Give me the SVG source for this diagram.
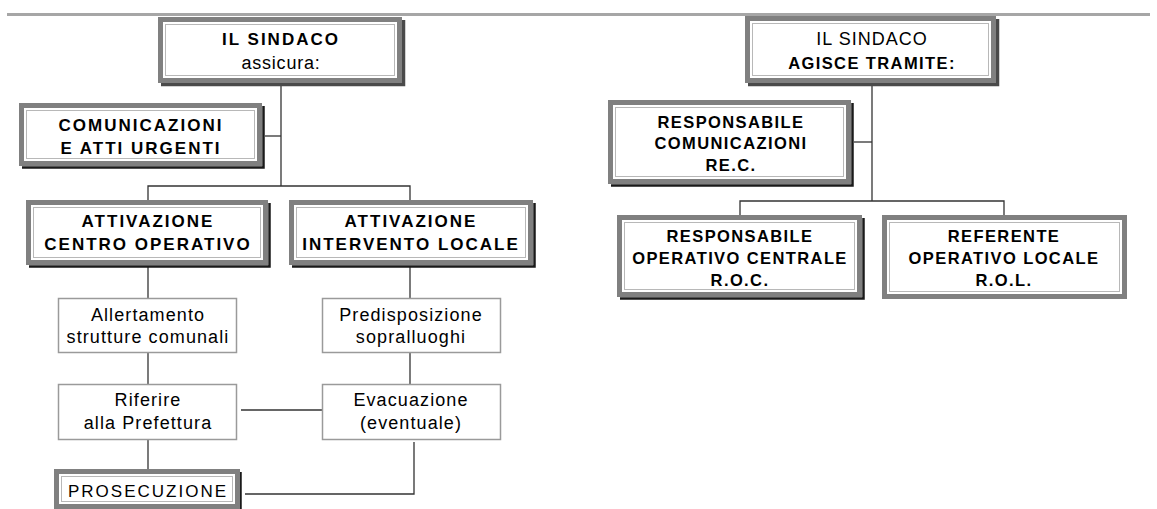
<svg xmlns="http://www.w3.org/2000/svg" width="1157" height="509" viewBox="0 0 1157 509">
<style>
  .bg{fill:#ffffff}
  .frame{fill:#ffffff;stroke:#808080;stroke-width:5}
  .inner{fill:none;stroke:#b8b8b8;stroke-width:1}
  .shadow{fill:none;stroke:#1a1a1a;stroke-width:2.5}
  .shadowtop{fill:none;stroke:#4a4a4a;stroke-width:3.5}
  .thin{fill:#ffffff;stroke:#9a9a9a;stroke-width:1.5}
  .rule{stroke:#a6a6a6;stroke-width:3}
  .conn{fill:none;stroke:#333333;stroke-width:1.3}
  text{font-family:"Liberation Sans",Arial,sans-serif;fill:#000000;text-anchor:middle}
  .b{font-weight:bold;font-size:17px;letter-spacing:2px}
  .br{font-weight:bold;font-size:16.5px;letter-spacing:1.4px}
  .r{font-size:18px;letter-spacing:1.1px}
  .rr{font-size:18px;letter-spacing:1px}
  .p{font-size:17px;letter-spacing:2px}
</style>
<rect class="bg" x="0" y="0" width="1157" height="509"/>
<line class="rule" x1="7" y1="14.5" x2="1150" y2="14.5"/>

<g id="connectors">
  <line class="conn" x1="281" y1="85" x2="281" y2="186"/>
  <line class="conn" x1="265" y1="136" x2="281" y2="136"/>
  <polyline class="conn" points="148,200 148,186 410,186 410,200"/>
  <line class="conn" x1="148" y1="267" x2="148" y2="298"/>
  <line class="conn" x1="148" y1="353" x2="148" y2="384"/>
  <line class="conn" x1="148" y1="440" x2="148" y2="469"/>
  <line class="conn" x1="410" y1="267" x2="410" y2="298"/>
  <line class="conn" x1="410" y1="353" x2="410" y2="384"/>
  <line class="conn" x1="241" y1="410" x2="322" y2="410"/>
  <polyline class="conn" points="414,442 414,494 245,494"/>
  <line class="conn" x1="872" y1="86" x2="872" y2="201"/>
  <line class="conn" x1="854" y1="142" x2="872" y2="142"/>
  <polyline class="conn" points="740,215 740,201 1004,201 1004,215"/>
</g>

<g id="sindaco-assicura">
  <polyline class="shadowtop" points="403.5,20 403.5,84.5 161,84.5"/>
  <rect class="frame" x="160.5" y="19.5" width="239" height="61"/>
  <rect class="inner" x="165.5" y="24.5" width="229" height="51"/>
  <text class="b" x="281" y="45">IL SINDACO</text>
  <text class="r" x="281" y="69" style="letter-spacing:0.8px">assicura:</text>
</g>

<g id="comunicazioni">
  <polyline class="shadow" points="263.5,106 263.5,167.5 22,167.5"/>
  <rect class="frame" x="21.5" y="105.5" width="238" height="58"/>
  <rect class="inner" x="26.5" y="110.5" width="228" height="48"/>
  <text class="b" x="141" y="131">COMUNICAZIONI</text>
  <text class="b" x="141" y="154">E ATTI URGENTI</text>
</g>

<g id="centro-operativo">
  <polyline class="shadow" points="269.5,203 269.5,266.5 29,266.5"/>
  <rect class="frame" x="28.5" y="202.5" width="237" height="60"/>
  <rect class="inner" x="33.5" y="207.5" width="227" height="50"/>
  <text class="b" x="148" y="227">ATTIVAZIONE</text>
  <text class="b" x="148" y="250">CENTRO OPERATIVO</text>
</g>

<g id="intervento-locale">
  <polyline class="shadow" points="534.5,203 534.5,266.5 292,266.5"/>
  <rect class="frame" x="291.5" y="202.5" width="239" height="60"/>
  <rect class="inner" x="296.5" y="207.5" width="229" height="50"/>
  <text class="b" x="411" y="227">ATTIVAZIONE</text>
  <text class="b" x="411" y="250">INTERVENTO LOCALE</text>
</g>

<g id="allertamento">
  <rect class="thin" x="58.5" y="298.5" width="178" height="54"/>
  <text class="r" x="148" y="321">Allertamento</text>
  <text class="r" x="148" y="343">strutture comunali</text>
</g>

<g id="predisposizione">
  <rect class="thin" x="322.5" y="298.5" width="178" height="54"/>
  <text class="r" x="411" y="321">Predisposizione</text>
  <text class="r" x="411" y="343">sopralluoghi</text>
</g>

<g id="riferire">
  <rect class="thin" x="58.5" y="384.5" width="178" height="55"/>
  <text class="r" x="148" y="406">Riferire</text>
  <text class="r" x="148" y="429">alla Prefettura</text>
</g>

<g id="evacuazione">
  <rect class="thin" x="322.5" y="384.5" width="178" height="55"/>
  <text class="r" x="411" y="406">Evacuazione</text>
  <text class="r" x="411" y="429">(eventuale)</text>
</g>

<g id="prosecuzione">
  <polyline class="shadow" points="240.5,472 240.5,509.5 57,509.5"/>
  <rect class="frame" x="56.5" y="471.5" width="181" height="35"/>
  <rect class="inner" x="61.5" y="476.5" width="171" height="25"/>
  <text class="p" x="148" y="497">PROSECUZIONE</text>
</g>

<g id="sindaco-tramite">
  <polyline class="shadowtop" points="997.5,19 997.5,84.5 748,84.5"/>
  <rect class="frame" x="747.5" y="18.5" width="246" height="62"/>
  <rect class="inner" x="752.5" y="23.5" width="236" height="52"/>
  <text class="rr" x="872" y="45">IL SINDACO</text>
  <text class="br" x="872" y="69">AGISCE TRAMITE:</text>
</g>

<g id="rec">
  <polyline class="shadow" points="852.5,103 852.5,185.5 611,185.5"/>
  <rect class="frame" x="610.5" y="102.5" width="238" height="79"/>
  <rect class="inner" x="615.5" y="107.5" width="228" height="69"/>
  <text class="br" x="731" y="128">RESPONSABILE</text>
  <text class="br" x="731" y="149">COMUNICAZIONI</text>
  <text class="br" x="731" y="171">RE.C.</text>
</g>

<g id="roc">
  <polyline class="shadow" points="863.5,218 863.5,298.5 620,298.5"/>
  <rect class="frame" x="619.5" y="217.5" width="240" height="77"/>
  <rect class="inner" x="624.5" y="222.5" width="230" height="67"/>
  <text class="br" x="740" y="242">RESPONSABILE</text>
  <text class="br" x="740" y="264">OPERATIVO CENTRALE</text>
  <text class="br" x="740" y="286">R.O.C.</text>
</g>

<g id="rol">
  <rect class="frame" x="884.5" y="217.5" width="240" height="79"/>
  <rect class="inner" x="889.5" y="222.5" width="230" height="69"/>
  <text class="br" x="1004" y="242">REFERENTE</text>
  <text class="br" x="1004" y="264">OPERATIVO LOCALE</text>
  <text class="br" x="1004" y="286">R.O.L.</text>
</g>
</svg>
